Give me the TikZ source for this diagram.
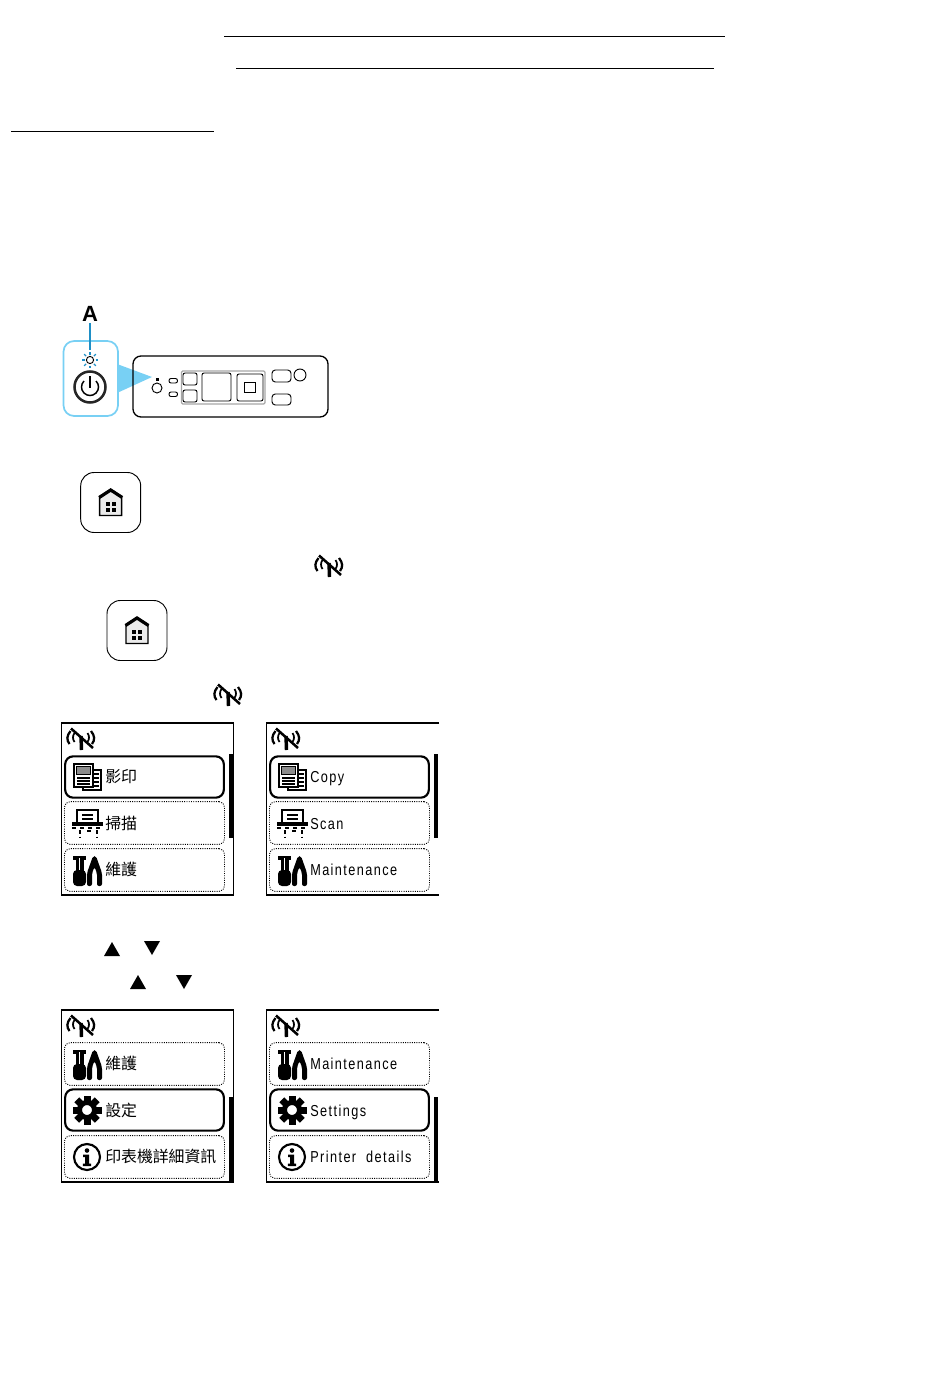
\documentclass[tikz,border=0pt]{standalone}
\usepackage{fontspec}
\setmainfont{Liberation Sans}
\newfontfamily\cjk{Noto Sans CJK TC}
\newfontfamily\lcd[FakeStretch=0.8,LetterSpace=9,WordSpace=2]{Liberation Sans}
\usepackage{tikz}
\usetikzlibrary{arrows.meta, positioning, calc}
\definecolor{skyblue}{HTML}{78D0F4}
\definecolor{ledblue}{HTML}{1E8FC6}
\tikzset{
  rowsel/.style={draw,line width=1.6pt,rounded corners=6pt,minimum width=119pt,minimum height=31pt,inner sep=0pt},
  rowdot/.style={draw,line width=0.7pt,densely dotted,rounded corners=4pt,minimum width=120pt,minimum height=32pt,inner sep=0pt},
  rowtext/.style={anchor=base west,inner sep=0pt,font=\fnt\fontsize{11.9}{12}\selectfont},
  frameline/.style={line width=0.95pt},
  panelline/.style={line width=0.7pt,rounded corners=1.5pt},
  pics/wifi/.style={code={
    \draw[line width=2.6pt] (0,-3) -- (0.5,11);
    \draw[line width=1.9pt] (-10,-10.5) -- (12,9);
    \draw[line width=1.7pt] (-10.5,-8) .. controls (-14.5,-3) and (-14.5,1) .. (-11.5,5);
    \draw[line width=1.3pt] (-6.5,-6) .. controls (-8.5,-3) and (-8.5,0) .. (-6.5,3);
    \draw[line width=1.7pt] (10,-8) .. controls (14,-3) and (14,1) .. (11,5);
    \draw[line width=1.3pt] (6.5,-6) .. controls (8.5,-3) and (8.5,0) .. (6.5,3);
  }},
  pics/homekey/.style={code={
    \draw[line width=0.7pt,rounded corners=10pt] (-30,-30) rectangle (30,30);
    \draw[line width=1.1pt,fill=black!8] (-11,13) -- (-11,-6) -- (0,-13) -- (11,-6) -- (11,13) -- cycle;
    \draw[line width=2.4pt] (-11.5,-5) -- (0,-12.5) -- (11.5,-5);
    \foreach \wx in {-5,1}{\foreach \wy in {-1,5}{
      \fill (\wx,\wy) rectangle ++(4,4);
    }}
  }},
  pics/copyicon/.style={code={
    \draw[line width=1.2pt,fill=white] (-4,-7) rectangle (14,13);
    \foreach \ly in {-3,1,5,9}{\draw[line width=0.9pt] (7,\ly) -- (12,\ly);}
    \draw[line width=2.1pt,fill=white] (-13,-13) rectangle (6,10);
    \fill[black!45] (-10.5,-10.5) rectangle (3.5,-2.5);
    \draw[line width=0.8pt] (-10.5,-10.5) rectangle (3.5,-2.5);
    \foreach \ly in {1,4,7}{\draw[line width=0.9pt] (-10,\ly) -- (3,\ly);}
  }},
  pics/scanicon/.style={code={
    \draw[line width=1.7pt] (-10,0) -- (-10,-13) -- (11,-13) -- (11,0);
    \draw[line width=0.9pt] (-5,-8) -- (6,-8) (-5,-4) -- (6,-4);
    \fill (-15,-1) rectangle (16,3);
    \draw[line width=0.9pt,dashed] (-15,5) -- (16,5);
    \draw[line width=1pt,densely dashed] (-7,7) -- (-7,14) (10,7) -- (10,14) (0,8) -- (4,8);
  }},
  pics/toolicon/.style={code={
    \fill (-14,-14) rectangle (-1,-10);
    \fill (-11.5,-10) rectangle (-3.5,2);
    \fill[white] (-8,-12) rectangle (-7,1);
    \fill[rounded corners=3pt] (-14,0) rectangle (-1,16);
    \fill[rounded corners=1.5pt] (0,16) -- (0,3) -- (6,-14) -- (9,-14) -- (15,3) -- (15,16) -- (10,16) -- (10,3) -- (7.5,-3) -- (5,3) -- (5,16) -- cycle;
  }},
  pics/gearicon/.style={code={
    \foreach \ang in {0,45,...,315}{
      \fill[rotate=\ang] (-3.5,-14.5) rectangle (3.5,-7);
    }
    \draw[line width=3.75pt] (0,0) circle (7.5);
  }},
  pics/infoicon/.style={code={
    \draw[line width=1.6pt] (0,0) circle (13);
    \fill (0,-6.5) circle (2.3);
    \fill (-4,-2.5) -- (2,-2.5) -- (2,6.5) -- (4.2,6.5) -- (4.2,9) -- (-4.2,9) -- (-4.2,6.5) -- (-2,6.5) -- (-2,0) -- (-4,0) -- cycle;
  }},
}
\begin{document}
\begin{tikzpicture}[x=0.75pt,y=-0.75pt]
  \useasboundingbox (0,0) rectangle (950,1387);
  \def\rowx{82.5}   % centre of a menu row
  \def\txtx{43}   % start of a menu label

  % ---------- heading rules ----------
  \draw[line width=0.9pt] (224,36.5) -- (725,36.5);
  \draw[line width=0.9pt] (236,68.5) -- (714,68.5);
  \draw[line width=0.9pt] (11,131.5) -- (214,131.5);

  % ---------- operation panel ----------
  \draw[skyblue,line width=1.3pt,rounded corners=8pt] (63.5,341) rectangle (118,416);
  \fill[skyblue] (117,364) -- (152,377) -- (117,393) -- cycle;
  \node[font=\bfseries\fontsize{16.5}{17}\selectfont,inner sep=0pt] (lblA) at (90,314) {A};
  \coordinate (ledtop) at (90,350);
  \draw[ledblue,line width=1.3pt] (lblA.south) ++(0,1) -- (ledtop);
  \draw[line width=0.7pt] (90,360) circle (3.6);
  \foreach \ang in {0,45,...,315}{
    \draw[ledblue,line width=1pt] (90,360) ++(\ang:5.5) -- ++(\ang:2.8);
  }
  \draw[black!85,line width=1.9pt] (90,387) circle (15.5);
  \draw[line width=1.1pt] (84,381) arc[start angle=225,end angle=-45,radius=8.5];
  \draw[line width=1.2pt] (90,376) -- (90,388);

  \draw[line width=1pt,rounded corners=6pt] (133,356) rectangle (328,417);
  \fill (155.5,377.5) rectangle (158.5,380.5);
  \draw[line width=0.7pt] (157,388) circle (5);
  \draw[panelline] (169,378.5) rectangle (177.5,383);
  \draw[panelline] (169,392) rectangle (177.5,396.5);
  \draw[gray!70,line width=0.9pt,rounded corners=1pt] (181.5,371) rectangle (265,404);
  \draw[panelline] (183,373) rectangle (197,385);
  \draw[panelline] (183,390) rectangle (197,402);
  \draw[panelline] (202,373) rectangle (231,401);
  \draw[panelline] (237,374) rectangle (263,401);
  \draw[line width=0.7pt] (244,382) rectangle (255,392);
  \draw[panelline,rounded corners=2.5pt] (272,370) rectangle (291,382);
  \draw[line width=0.7pt] (300,375) circle (6);
  \draw[panelline,rounded corners=2.5pt] (272,394) rectangle (291,405);

  % ---------- home keys and wifi marks ----------
  \pic (homeA) at (110.7,502.5) {homekey};
  \pic (wifiA) at (329,566) {wifi};
  \pic (homeB) at (137,630.5) {homekey};
  \pic (wifiB) at (228,695) {wifi};

  % ---------- first pair of screens ----------
  \foreach \n/\sx/\fnt/\ta/\tb/\tc in {a/61.5/\cjk/影印/掃描/維護, b/266.5/\lcd/Copy/Scan/Maintenance}{
    \begin{scope}[shift={(\sx,723)}]
      \draw[frameline] (172.5,0) -- (0,0) -- (0,172) -- (172.5,172);
      \pic (wifi\n) at (19.5,16) {wifi};
      \node[rowsel] (\n sel) at (\rowx+0.5,54) {};
      \node[rowdot] (\n up) at (\rowx+0.5,100) {};
      \node[rowdot] (\n dn) at (\rowx+0.5,147) {};
      \fill (167.5,31) rectangle (171,115);
      \pic (copy\n) at (25.5,54) {copyicon};
      \pic (scan\n) at (25.5,100) {scanicon};
      \pic (tool\n) at (25.5,147) {toolicon};
      \node[rowtext] (\n ta) at (\txtx+0.5,59) {\ta};
      \node[rowtext] (\n tb) at (\txtx+0.5,106) {\tb};
      \node[rowtext] (\n tc) at (\txtx+0.5,152) {\tc};
    \end{scope}
  }
  \draw[frameline] (233.5,723) -- (233.5,895);

  % ---------- scroll triangles ----------
  \fill (104,956) -- (112,942) -- (120,956) -- cycle;
  \fill (144,941) -- (160,941) -- (152,955) -- cycle;
  \fill (130,989) -- (138,975) -- (146,989) -- cycle;
  \fill (176,975) -- (192,975) -- (184,989) -- cycle;

  % ---------- second pair of screens ----------
  \foreach \n/\sx/\fnt/\ta/\tb/\tc in {c/61.5/\cjk/維護/設定/印表機詳細資訊, d/266.5/\lcd/Maintenance/Settings/Printer details}{
    \begin{scope}[shift={(\sx,1010)}]
      \draw[frameline] (172.5,0) -- (0,0) -- (0,172) -- (172.5,172);
      \pic (wifi\n) at (19.5,16) {wifi};
      \node[rowdot] (\n up) at (\rowx+0.5,54) {};
      \node[rowsel] (\n sel) at (\rowx+0.5,100) {};
      \node[rowdot] (\n dn) at (\rowx+0.5,147) {};
      \fill (167.5,87) rectangle (171,171);
      \pic (tool\n) at (25.5,54) {toolicon};
      \pic (gear\n) at (25.5,100) {gearicon};
      \pic (info\n) at (25.5,147) {infoicon};
      \node[rowtext] (\n ta) at (\txtx+0.5,59) {\ta};
      \node[rowtext] (\n tb) at (\txtx+0.5,106) {\tb};
      \node[rowtext] (\n tc) at (\txtx+0.5,152) {\tc};
    \end{scope}
  }
  \draw[frameline] (233.5,1010) -- (233.5,1182);
\end{tikzpicture}
\end{document}
